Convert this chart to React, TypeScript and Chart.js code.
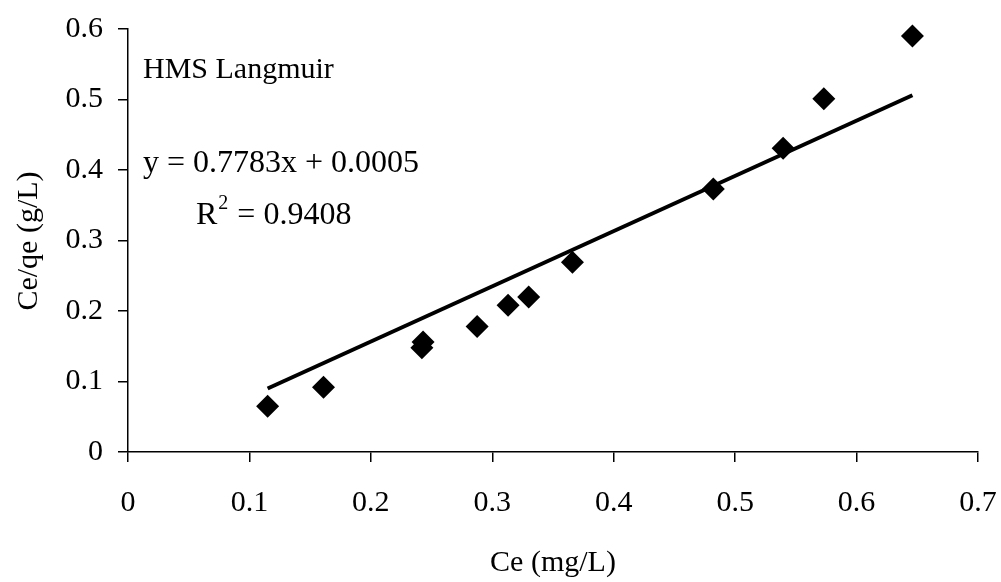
import React, { useEffect, useRef } from "react";
import { Chart, registerables } from "chart.js";

Chart.register(...registerables);

const ceValues = [0.115, 0.161, 0.242, 0.243, 0.2875, 0.313, 0.33, 0.366, 0.482, 0.5395, 0.573, 0.646];
const ceQeValues = [0.065, 0.092, 0.148, 0.156, 0.178, 0.208, 0.22, 0.269, 0.373, 0.431, 0.501, 0.59];
const trendX = [0.115, 0.646];
const trendY = [0.090, 0.506];
const xTicks = [0, 0.1, 0.2, 0.3, 0.4, 0.5, 0.6, 0.7];
const yTicks = [0, 0.1, 0.2, 0.3, 0.4, 0.5, 0.6];
const seriesLabel = "HMS Langmuir";
const equationText = "y = 0.7783x + 0.0005";
const r2Value = "0.9408";
const xTitle = "Ce (mg/L)";
const yTitle = "Ce/qe (g/L)";

const FONT = "'Liberation Serif', 'Times New Roman', serif";
const FS = 30;
const EQ_FS = 32;

export default function App() {
  const ref = useRef<HTMLCanvasElement | null>(null);
  useEffect(() => {
    if (!ref.current) return;
    const textPlugin = {
      id: "texts",
      afterDraw(chart: any) {
        const ctx = chart.ctx;
        ctx.save();
        ctx.fillStyle = "#000";
        ctx.textBaseline = "middle";
        ctx.textAlign = "left";
        ctx.font = `${FS}px ${FONT}`;
        ctx.fillText(seriesLabel, 143, 70);
        ctx.font = `${EQ_FS}px ${FONT}`;
        ctx.fillText(equationText, 143, 164);
        // R^2
        let x = 196;
        ctx.fillText("R", x, 216);
        x += ctx.measureText("R").width;
        ctx.font = `${Math.round(EQ_FS * 0.62)}px ${FONT}`;
        ctx.fillText("2", x + 1, 204);
        x += ctx.measureText("2").width + 2;
        ctx.font = `${EQ_FS}px ${FONT}`;
        ctx.fillText(" = " + r2Value, x, 216);
        // axis titles
        ctx.font = `${FS}px ${FONT}`;
        ctx.textAlign = "center";
        ctx.fillText(xTitle, 553, 563);
        ctx.translate(29, 241);
        ctx.rotate(-Math.PI / 2);
        ctx.fillText(yTitle, 0, 0);
        ctx.restore();
      },
    };
    const chart = new Chart(ref.current, {
      type: "scatter",
      data: {
        datasets: [
          {
            label: "Trendline",
            type: "line",
            data: trendX.map((v, i) => ({ x: v, y: trendY[i] })),
            borderColor: "#000",
            borderWidth: 4,
            pointRadius: 0,
            fill: false,
            clip: false,
            order: 1,
          } as any,
          {
            label: seriesLabel,
            data: ceValues.map((v, i) => ({ x: v, y: ceQeValues[i] })),
            pointStyle: "rectRot",
            pointRadius: 11.5,
            backgroundColor: "#000",
            borderColor: "#000",
            borderWidth: 0,
            clip: false,
            order: 0,
          } as any,
        ],
      },
      options: {
        responsive: false,
        animation: false,
        devicePixelRatio: 1,
        layout: { padding: { top: 29, right: 23, left: 0, bottom: 0 } },
        plugins: { legend: { display: false }, tooltip: { enabled: false } },
        scales: {
          x: {
            type: "linear",
            min: 0,
            max: 0.7,
            afterBuildTicks: (s: any) => { s.ticks = xTicks.map((v) => ({ value: v })); },
            afterFit: (s: any) => { s.height = 130; s.paddingLeft = 0; s.paddingRight = 0; },
            ticks: {
              color: "#000",
              font: { family: FONT, size: FS },
              padding: 23,
              maxRotation: 0,
              callback: (v: any) => String(Math.round(Number(v) * 10) / 10),
            },
            grid: { drawOnChartArea: false, drawTicks: true, tickLength: 10, color: "#000", tickColor: "#000", lineWidth: 1.5 },
            border: { display: true, color: "#000", width: 1.5 },
          },
          y: {
            type: "linear",
            min: 0,
            max: 0.6,
            afterBuildTicks: (s: any) => { s.ticks = yTicks.map((v) => ({ value: v })); },
            afterFit: (s: any) => { s.width = 128; s.paddingTop = 0; s.paddingBottom = 0; },
            ticks: {
              color: "#000",
              font: { family: FONT, size: FS },
              padding: 15,
              callback: (v: any) => String(Math.round(Number(v) * 10) / 10),
            },
            grid: { drawOnChartArea: false, drawTicks: true, tickLength: 10, color: "#000", tickColor: "#000", lineWidth: 1.5 },
            border: { display: true, color: "#000", width: 1.5 },
          },
        },
      },
      plugins: [textPlugin],
    });
    return () => chart.destroy();
  }, []);
  return (
    <div style={{ position: "fixed", left: 0, top: 0, width: 1001, height: 582, background: "#fff" }}>
      <canvas ref={ref} width={1001} height={582} style={{ display: "block" }} />
    </div>
  );
}
